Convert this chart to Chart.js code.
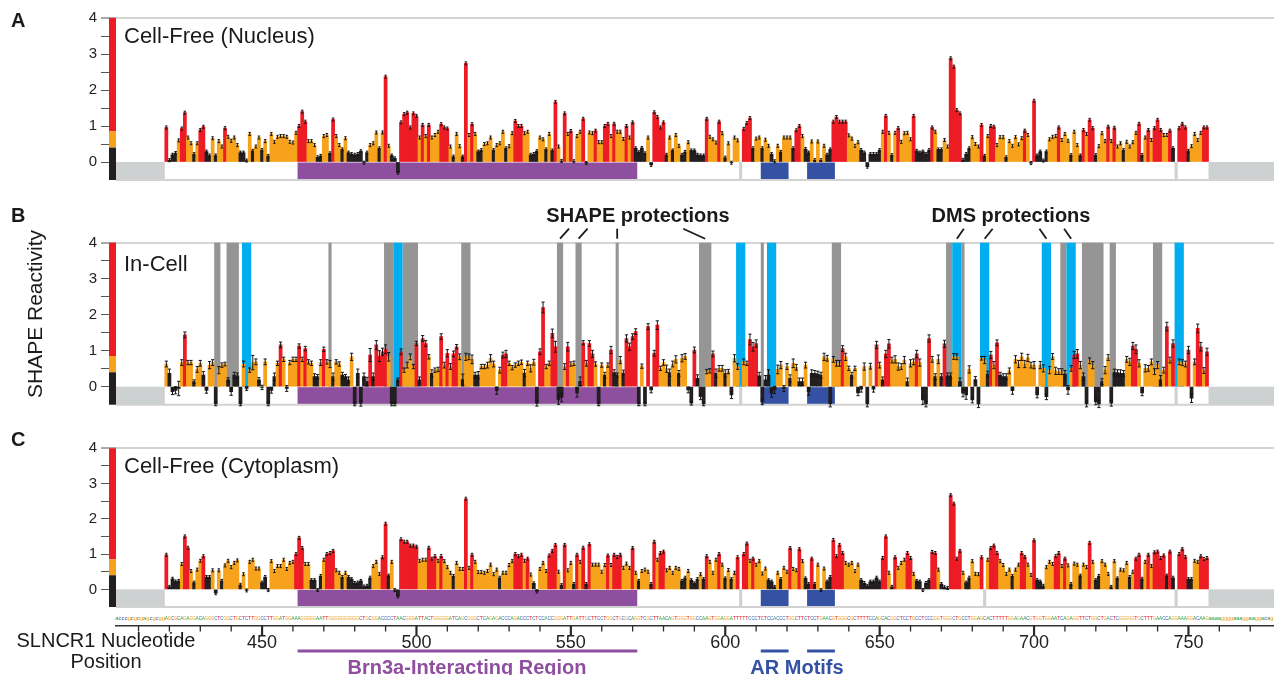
<!DOCTYPE html>
<html><head><meta charset="utf-8">
<script src="https://cdn.jsdelivr.net/npm/chart.js@4/dist/chart.umd.min.js"></script>
<style>
html,body{margin:0;padding:0;background:#fff;}
#wrap{position:relative;width:1274px;height:675px;overflow:hidden;font-family:"Liberation Sans",Arial,Helvetica,sans-serif;color:#1a1a1a;}
canvas{position:absolute;left:0;}
.t{position:absolute;line-height:1;white-space:nowrap;}
.b{font-weight:bold;}
.c{transform:translate(-50%,-50%);}
.l{transform:translate(0,-50%);}
</style></head><body><div id="wrap">
<canvas id="cA" width="1274" height="200" style="top:0px"></canvas>
<canvas id="cB" width="1274" height="220" style="top:200px"></canvas>
<canvas id="cC" width="1274" height="200" style="top:420px"></canvas>
<canvas id="cD" width="1274" height="75" style="top:600px"></canvas>

<div class="t b l" style="left:11px;top:20px;font-size:20px">A</div>
<div class="t b l" style="left:11px;top:215px;font-size:20px">B</div>
<div class="t b l" style="left:11px;top:439px;font-size:20px">C</div>
<div class="t l" style="left:124px;top:36px;font-size:22px">Cell-Free (Nucleus)</div>
<div class="t l" style="left:124px;top:264px;font-size:22px">In-Cell</div>
<div class="t l" style="left:124px;top:466px;font-size:22px">Cell-Free (Cytoplasm)</div>
<div class="t" style="left:34px;top:314px;font-size:21px;transform:translate(-50%,-50%) rotate(-90deg)">SHAPE Reactivity</div>
<div class="t b c" style="left:638px;top:215px;font-size:20px">SHAPE protections</div>
<div class="t b c" style="left:1011px;top:215px;font-size:20px">DMS protections</div>
<div class="t c" style="left:106px;top:640px;font-size:20px">SLNCR1 Nucleotide</div>
<div class="t c" style="left:106px;top:661px;font-size:20px">Position</div>
<div class="t b c" style="left:467px;top:667px;font-size:20px;color:#8E4F9F">Brn3a-Interacting Region</div>
<div class="t b c" style="left:797px;top:667px;font-size:20px;color:#3451A3">AR Motifs</div>
</div>
<script>
// ---------------- data ----------------
const START = 419;            // first nucleotide with data
const XMIN = 402.7, XMAX = 777.7;

const valA = [
0.96,0.05,0.2,0.25,0.6,0.93,1.37,0.68,0.52,0.22,
0.52,0.89,0.98,0.29,0.18,0.66,0.18,0.58,0.43,0.94,
0.7,0.59,0.68,0.47,0.26,0.26,0.04,0.78,0.31,0.43,
0.68,0.33,0.58,0.17,0.78,0.56,0.7,0.72,0.72,0.7,
0.56,0.54,0.81,1.0,1.4,1.12,0.58,0.58,0.47,0.13,
0.17,0.72,0.75,0.24,1.18,0.72,0.47,0.35,0.66,0.26,
0.22,0.2,0.22,0.3,-0.02,0.26,0.47,0.52,0.82,0.38,
0.82,2.37,0.45,0.18,0.1,-0.3,1.1,1.33,1.37,0.96,
1.35,1.28,0.68,1.03,0.72,1.03,0.68,0.75,0.84,1.05,
0.96,0.93,0.43,0.15,0.78,0.44,0.15,2.74,0.75,1.05,
0.78,0.29,0.33,0.5,0.52,0.68,0.33,0.47,0.52,0.84,
0.38,0.44,0.8,1.14,1.0,1.0,0.8,0.84,0.2,0.22,
0.3,0.68,0.63,0.35,0.78,0.32,1.67,0.43,0.03,1.35,
0.78,0.86,0.02,0.72,0.84,1.2,-0.03,0.82,0.8,0.87,
0.55,0.55,1.0,1.06,0.72,1.06,0.84,0.84,0.64,1.0,
0.68,1.1,0.38,0.27,0.39,0.24,0.68,-0.08,1.38,1.25,
0.96,1.1,0.2,0.68,0.32,0.75,0.45,0.2,0.28,0.55,
0.32,0.32,0.2,0.18,0.18,1.2,0.7,0.63,0.54,1.12,
0.8,0.12,0.52,-0.02,0.68,0.6,null,0.92,1.08,1.22,
0.38,0.65,0.68,0.38,0.62,0.45,0.22,0.02,0.45,0.28,
0.68,0.68,0.68,0.38,0.88,1.0,0.72,0.36,0.26,0.57,
0.05,0.57,0.05,0.45,0.2,0.35,1.12,1.25,1.12,1.12,
1.12,0.74,0.65,0.45,0.55,0.33,0.26,-0.13,0.22,0.22,
0.22,0.33,0.84,1.28,0.81,0.19,0.81,0.94,0.56,0.8,
0.81,0.63,1.28,0.31,0.26,0.29,0.22,0.33,0.96,0.84,
0.35,0.35,0.61,0.43,2.88,2.65,1.44,1.35,0.06,0.22,
0.38,0.69,0.5,0.43,1.03,0.17,0.72,1.0,0.98,0.47,
0.69,0.69,0.13,0.58,0.45,0.69,0.49,0.66,0.87,0.75,
-0.03,1.7,0.18,0.29,0.04,0.29,0.63,0.7,0.72,0.96,
0.61,0.78,0.59,0.19,0.84,0.47,0.18,0.89,0.78,1.17,
0.94,0.19,0.44,0.8,0.58,0.98,0.58,0.95,0.43,0.52,
0.33,0.56,0.43,0.55,0.81,1.06,0.19,0.68,0.89,0.61,
0.94,1.17,0.89,0.75,0.75,0.87,0.38,null,0.94,1.06,
0.96,0.31,0.44,0.78,0.61,0.81,0.96,0.96];

const valB = [
0.63,0.37,-0.14,-0.1,-0.05,0.67,1.44,0.67,0.67,0.14,
0.48,0.65,0.32,-0.1,0.6,0.67,-0.48,0.46,0.6,0.63,
0.19,-0.14,0.32,0.3,-0.48,0.63,-0.05,0.46,0.67,0.69,
0.19,-0.02,0.69,-0.48,-0.1,0.28,0.65,1.16,0.76,-0.05,
0.67,0.76,0.76,1.13,0.76,1.06,0.69,0.65,0.28,0.28,
0.67,1.04,0.69,0.63,0.28,0.69,0.63,0.32,0.28,0.19,
0.83,-0.48,0.37,-0.46,0.28,0.14,0.88,0.28,1.16,0.85,
0.97,1.04,0.83,-0.48,-0.48,0.19,0.97,0.46,0.6,0.83,
0.56,1.2,0.19,1.34,1.2,0.83,0.37,0.46,0.48,1.39,
0.6,0.93,0.56,0.91,1.11,0.83,0.2,0.83,0.83,0.76,
0.32,0.32,0.56,0.56,0.6,0.79,0.63,-0.11,0.46,0.88,
0.91,0.65,0.53,0.6,0.65,0.68,0.38,0.65,0.51,0.68,
-0.46,0.97,2.2,0.56,0.65,1.48,1.11,-0.37,-0.3,0.56,
1.11,0.63,0.65,-0.17,0.15,1.22,0.65,1.2,0.91,0.63,
-0.48,0.6,0.32,0.6,1.02,0.39,0.32,0.74,0.38,1.34,
1.11,1.39,1.53,-0.48,0.57,-0.48,1.67,-0.09,0.93,1.71,
0.51,0.67,0.5,0.39,0.63,0.76,0.37,0.79,0.84,-0.09,
-0.46,1.02,0.23,-0.28,-0.48,0.42,0.44,0.91,0.37,0.51,
0.51,0.37,0.42,-0.23,0.79,0.56,null,0.69,0.65,1.31,
1.11,1.2,0.3,-0.42,0.19,0.32,-0.19,-0.09,0.48,0.6,
-0.05,0.56,0.23,0.65,0.54,0.14,0.14,0.6,-0.14,0.37,
0.37,0.35,0.32,0.83,0.79,-0.48,0.76,0.65,0.65,1.06,
0.83,0.51,0.32,0.51,-0.17,-0.07,0.56,-0.48,0.57,-0.07,
1.16,0.6,0.19,0.91,1.19,0.74,0.76,0.56,0.56,0.74,
0.14,0.65,0.69,0.91,0.67,-0.37,-0.48,1.34,0.76,0.28,
0.76,0.28,1.19,0.3,0.3,0.84,0.83,0.14,-0.18,-0.23,
0.48,-0.37,0.2,-0.48,0.79,0.74,0.35,0.88,0.6,1.22,
0.32,0.28,0.28,0.44,-0.11,0.76,0.63,0.83,0.63,0.8,
0.6,0.6,-0.23,0.6,0.51,-0.28,0.46,0.84,0.44,0.42,
0.42,0.35,-0.09,0.51,0.88,0.91,0.6,0.28,-0.48,0.72,
0.6,-0.42,-0.48,0.14,0.46,0.81,-0.46,0.39,0.39,0.37,
0.37,0.76,0.69,1.13,1.04,0.65,-0.17,0.51,0.51,0.69,
0.42,0.6,0.19,0.46,1.67,0.74,1.2,null,0.69,0.67,
0.63,1.02,-0.32,0.69,1.62,1.11,0.45,0.97];

// In-cell error bar half-lengths, in hundredths of a reactivity unit
const errB = [
8,12,8,10,20,8,8,6,6,5, 8,8,10,8,10,8,5,10,6,5, 6,10,8,8,5,8,5,6,20,8, 6,6,8,5,8,10,6,8,6,8,
6,6,6,6,6,6,6,6,8,6, 8,6,6,10,10,6,6,8,6,8, 10,5,12,8,10,12,18,10,12,15, 10,12,12,5,5,5,8,6,8,8,
6,6,8,8,8,6,10,6,6,8, 8,10,8,8,6,8,15,10,8,12, 8,10,6,6,8,10,8,10,8,8, 10,6,6,6,6,6,10,6,10,8,
8,8,15,6,6,12,15,12,12,8, 12,6,6,12,12,6,8,8,10,6, 5,6,8,6,10,8,6,10,8,10, 10,8,8,5,6,5,8,8,8,12,
6,8,10,10,8,10,8,10,8,8, 5,8,10,8,5,6,6,8,12,8, 8,10,6,10,10,8,0,8,6,15, 12,10,10,8,12,15,10,10,12,10,
8,8,10,12,8,10,10,8,10,10, 8,8,8,10,8,8,8,8,8,8, 10,6,8,6,8,8,10,8,8,8, 10,8,8,10,12,8,10,10,8,10,
10,10,8,10,10,12,8,10,8,8, 12,8,10,8,8,8,8,10,10,12, 10,8,8,10,5,10,8,10,10,8, 8,8,8,8,10,10,10,10,10,10,
8,10,8,10,10,8,10,8,10,8, 8,10,12,8,10,12,10,10,8,8, 10,8,10,8,10,8,8,10,8,10, 8,8,10,10,12,10,8,10,8,8,
8,10,12,8,12,8,10,0,8,8, 8,10,12,8,12,12,8,10];

const valC = [
0.98,0.07,0.3,0.22,0.24,0.72,1.5,1.18,0.52,0.19,
0.56,0.81,0.94,0.35,0.35,0.54,-0.11,0.54,0.24,0.68,
0.81,0.63,0.75,0.82,0.13,0.43,-0.03,0.78,0.84,0.59,
0.59,0.19,0.35,-0.02,0.8,0.52,0.66,0.66,0.84,0.58,
0.75,0.78,1.0,1.46,1.17,0.72,0.72,0.26,0.26,-0.02,
0.38,0.84,1.0,1.03,1.09,0.54,0.47,0.35,0.47,0.35,
0.29,0.18,0.19,0.24,0.08,0.1,0.33,0.66,0.78,0.44,
0.91,1.86,0.39,0.78,-0.02,-0.2,1.42,1.35,1.35,1.24,
1.24,1.21,0.81,0.84,0.84,1.18,0.87,0.94,0.81,0.94,
0.8,0.63,0.47,0.38,0.75,0.58,0.58,2.57,0.61,0.98,
0.78,0.49,0.49,0.47,0.52,0.7,0.43,0.56,0.33,0.47,
0.47,0.69,0.8,1.0,0.94,0.98,0.81,0.87,0.42,0.17,
-0.06,0.58,0.75,0.52,0.96,1.09,1.26,0.5,0.12,1.26,
0.54,0.75,0.15,0.98,0.78,1.18,0.15,1.28,0.7,0.7,
0.7,0.5,0.69,0.96,0.69,0.98,0.92,0.98,0.61,0.73,
0.61,1.17,0.47,0.24,0.52,0.56,0.5,0.15,1.35,0.84,
1.03,1.07,0.54,0.61,0.47,0.61,0.58,0.24,0.33,0.52,
0.26,0.17,0.29,0.43,0.29,0.94,0.78,0.47,0.84,1.0,
0.7,0.31,0.55,0.29,0.47,0.91,null,1.0,1.3,0.81,
0.87,0.7,0.8,0.45,0.59,0.26,0.22,0.07,0.47,0.29,
0.61,0.5,1.17,0.58,0.54,1.14,0.8,0.31,0.15,0.87,
0.15,0.7,-0.02,0.59,0.22,0.35,1.4,0.94,1.26,1.03,
0.75,0.7,0.75,0.52,0.7,0.26,0.18,0.1,0.22,0.22,
0.33,0.22,0.89,1.5,0.47,0.07,0.91,0.61,0.75,0.84,
1.03,0.89,0.44,0.24,0.22,-0.02,0.18,0.26,1.06,1.03,
0.56,0.15,0.06,0.04,2.67,2.43,0.87,1.09,0.47,0.19,
0.33,0.8,0.44,0.43,0.91,null,0.84,1.17,1.24,1.03,
0.8,0.69,0.44,0.56,0.38,0.56,0.7,1.03,0.92,0.7,
0.41,1.39,0.26,0.22,0.1,0.63,0.78,0.72,0.94,1.03,
0.66,0.87,0.68,0.15,0.73,0.7,0.39,0.7,0.63,1.32,
0.78,0.26,0.38,0.8,0.7,0.44,0.07,0.8,0.31,0.56,
0.54,0.75,0.35,0.5,0.87,0.98,0.3,0.78,0.98,0.66,
1.05,1.07,0.89,0.96,0.39,1.07,0.33,null,1.0,1.14,
0.92,0.29,0.29,0.81,0.78,0.94,0.86,0.89];

// regions (nucleotide numbers, inclusive)
const brnRegion = [462, 571];
const arMotifs = [[612, 620], [627, 635]];
const shapeBands = [[435,436],[439,442],[472,472],[490,492],[496,500],[515,517],[546,547],[552,553],[565,565],
  [592,595],[612,612],[635,637],[672,673],[677,677],[709,710],[716,722],[725,726],[739,741]];
const dmsBands = [[444,446],[493,495],[604,606],[614,616],[674,676],[683,685],[703,705],[711,713],[746,748]];
const shapeLeaders = [546.5, 552.5, 565, 593.5];
const dmsLeaders = [675, 684, 704, 712];

// sequence under the axis, first letter = nucleotide 403
const SEQ_START = 403;
const seq = "acccgcgcgagcgcgg" +
  "AGCGCAGAGGACAGGGCTCGGCTGCTCTTGGCCTTGGATGGAAAGGGGGAATTGGGGGGGGGGCTGCGGACCCCTAACGGGATTACTGGGGGATCAGCGGGCTCAGAGACCCAGACCCTCTCCACCGGGATTGATTGCTTCCTGGCTGCGCAG" +
  "GTCGCTTAACAGTGGGTGGCCAAGTGGAGGATTTTTCCCTCTCCACCCTGGCTTCTCCTGAACGTGGGCGCTTTTCCAGCACGGCTCCTGCCTCCCGGTGGGCTGCCTGGAGCACTTTTTGGAGAACGTGGTGGAATCAGAGGTTCTGGCTGACTCGGGGGTGCTTTGAACCAGGAAAGGACAAG" +
  "aaaaggggaaaggaaggacag";

// ---------------- styles ----------------
const RED = '#ED1C24', ORANGE = '#F7A21B', BLACK = '#231F20';
const STRIP_GREY = '#CDD1D1', PURPLE = '#8E4F9F', BLUE = '#3451A3';
const BAND_GREY = '#959595', BAND_CYAN = '#00AEEF';
Chart.defaults.font.family = "'Liberation Sans', Arial, Helvetica, sans-serif";

function colorFor(v){ if (v == null) return 'rgba(0,0,0,0)'; return v >= 0.85 ? RED : (v >= 0.4 ? ORANGE : BLACK); }

function makePanel(id, vals, errs, withBands, padTop, padBottom){
  const data = vals.map((v, i) => ({x: START + i, y: v}));
  const deco = {
    id: 'deco_' + id,
    beforeDatasetsDraw(chart){
      const {ctx, chartArea: a, scales: {x, y}} = chart;
      const y0 = y.getPixelForValue(0), y1 = y.getPixelForValue(-0.5), y4 = y.getPixelForValue(4);
      const px = n => x.getPixelForValue(n);
      ctx.save();
      if (withBands){
        shapeBands.forEach(b => { ctx.fillStyle = BAND_GREY; ctx.fillRect(px(b[0]-0.5), y4, px(b[1]+0.5)-px(b[0]-0.5), y0-y4); });
        dmsBands.forEach(b => { ctx.fillStyle = BAND_CYAN; ctx.fillRect(px(b[0]-0.5), y4, px(b[1]+0.5)-px(b[0]-0.5), y0-y4); });
      }
      // annotation strip
      const xl = px(START-0.5), xr = px(START+vals.length-0.5);
      ctx.fillStyle = STRIP_GREY;
      ctx.fillRect(a.left, y0, xl-a.left, y1-y0);
      ctx.fillRect(xr, y0, a.right-xr, y1-y0);
      ctx.fillStyle = PURPLE;
      ctx.fillRect(px(brnRegion[0]-0.5), y0+0.5, px(brnRegion[1]+0.5)-px(brnRegion[0]-0.5), y1-y0-1);
      ctx.fillStyle = BLUE;
      arMotifs.forEach(m => ctx.fillRect(px(m[0]-0.5), y0+0.5, px(m[1]+0.5)-px(m[0]-0.5), y1-y0-1));
      ctx.fillStyle = STRIP_GREY;
      vals.forEach((v, i) => { if (v === null){ ctx.fillRect(px(START+i-0.5), y0, px(START+i+0.5)-px(START+i-0.5), y1-y0); } });
      ctx.strokeStyle = '#d2d2d2'; ctx.lineWidth = 2;
      ctx.beginPath(); ctx.moveTo(a.left, y1); ctx.lineTo(a.right, y1); ctx.stroke();
      ctx.restore();
    },
    afterDatasetsDraw(chart){
      const {ctx, scales: {y}} = chart;
      const meta = chart.getDatasetMeta(0);
      ctx.save(); ctx.strokeStyle = '#151515'; ctx.lineWidth = 1;
      meta.data.forEach((el, i) => {
        const v = vals[i]; if (v == null) return;
        const cx = el.x; let yt, yb, cw;
        if (errs){ const e = errs[i]/100; yt = y.getPixelForValue(v+e); yb = y.getPixelForValue(v-e); cw = 1.6; }
        else { const yy = y.getPixelForValue(v); yt = yy-1.5; yb = yy+1.5; cw = 1.2; }
        ctx.beginPath();
        ctx.moveTo(cx, yt); ctx.lineTo(cx, yb);
        ctx.moveTo(cx-cw, yt); ctx.lineTo(cx+cw, yt);
        ctx.moveTo(cx-cw, yb); ctx.lineTo(cx+cw, yb);
        ctx.stroke();
      });
      ctx.restore();
    },
    afterDraw(chart){
      const {ctx, chartArea: a, scales: {x, y}} = chart;
      const bx = a.left - 7;
      const p = v => y.getPixelForValue(v);
      ctx.save();
      ctx.fillStyle = RED; ctx.fillRect(bx, p(4), 7, p(0.85)-p(4));
      ctx.fillStyle = ORANGE; ctx.fillRect(bx, p(0.85), 7, p(0.4)-p(0.85));
      ctx.fillStyle = BLACK; ctx.fillRect(bx, p(0.4), 7, p(-0.5)-p(0.4));
      if (withBands){
        const top = p(4);
        ctx.strokeStyle = '#1a1a1a'; ctx.lineWidth = 1.8;
        const draw = (n, dx) => { const cx = x.getPixelForValue(n); ctx.beginPath(); ctx.moveTo(cx, top-4); ctx.lineTo(cx+dx, top-14); ctx.stroke(); };
        const sdx = [9, 9, 0, -22], ddx = [7, 8, -7, -7];
        shapeLeaders.forEach((n, k) => draw(n, sdx[k]));
        dmsLeaders.forEach((n, k) => draw(n, ddx[k]));
      }
      ctx.restore();
    }
  };
  return new Chart(document.getElementById(id), {
    type: 'bar',
    data: {datasets: [{data, backgroundColor: c => colorFor(c.raw ? c.raw.y : null), borderWidth: 0,
      barPercentage: 1, categoryPercentage: 1, grouped: false}]},
    options: {
      animation: false, responsive: false, maintainAspectRatio: false,
      layout: {padding: {top: padTop, bottom: padBottom, left: 0, right: 0}},
      plugins: {legend: {display: false}, tooltip: {enabled: false}},
      scales: {
        x: {type: 'linear', min: XMIN, max: XMAX, offset: false, display: false},
        y: {
          min: -0.5, max: 4,
          afterFit(s){ s.width = 116; },
          border: {display: false},
          grid: {
            drawOnChartArea: true,
            color: c => (c.tick && c.tick.value === 4) ? '#d4d4d4' : 'rgba(0,0,0,0)',
            lineWidth: c => (c.tick && c.tick.value === 4) ? 2 : 1,
            tickLength: 15,
            tickColor: c => (c.tick && c.tick.value >= 0) ? '#555' : 'rgba(0,0,0,0)',
            tickWidth: 1
          },
          ticks: {stepSize: 0.5, autoSkip: false, padding: 4, color: '#222', font: {size: 15},
            callback: v => (v >= 0 && Math.abs(v - Math.round(v)) < 1e-9) ? String(Math.round(v)) : ''}
        }
      }
    },
    plugins: [deco]
  });
}

makePanel('cA', valA, null, false, 18, 20);
makePanel('cB', valB, errB, true, 42.7, 15.3);
makePanel('cC', valC, null, false, 28.3, 9.7);

// ---------------- shared nucleotide axis ----------------
const baseColor = {A:'#2E9E3E', C:'#2F5FB3', G:'#EE9A1E', T:'#E2262B'};
const axisDeco = {
  id: 'axisDeco',
  afterDraw(chart){
    const {ctx, chartArea: a, scales: {x}} = chart;
    ctx.save();
    ctx.font = "6px 'Liberation Sans Narrow','Liberation Sans',sans-serif";
    ctx.textAlign = 'center'; ctx.textBaseline = 'middle';
    for (let k = 0; k < seq.length; k++){
      const ch = seq[k];
      ctx.fillStyle = baseColor[ch.toUpperCase()] || '#666';
      ctx.fillText(ch, x.getPixelForValue(SEQ_START + k), a.bottom - 7.5, 3.2);
    }
    ctx.strokeStyle = '#2a2a2a';
    x.ticks.forEach(t => {
      const major = t.value % 50 === 0;
      const cx = x.getPixelForValue(t.value);
      ctx.lineWidth = major ? 2.2 : 1.3;
      ctx.beginPath(); ctx.moveTo(cx, a.bottom); ctx.lineTo(cx, a.bottom + (major ? 10 : 6)); ctx.stroke();
    });
    const ly = 51;
    ctx.lineWidth = 3;
    ctx.strokeStyle = PURPLE;
    ctx.beginPath(); ctx.moveTo(x.getPixelForValue(brnRegion[0]-0.5), ly); ctx.lineTo(x.getPixelForValue(brnRegion[1]+0.5), ly); ctx.stroke();
    ctx.strokeStyle = BLUE;
    arMotifs.forEach(m => { ctx.beginPath(); ctx.moveTo(x.getPixelForValue(m[0]-0.5), ly); ctx.lineTo(x.getPixelForValue(m[1]+0.5), ly); ctx.stroke(); });
    ctx.restore();
  }
};
new Chart(document.getElementById('cD'), {
  type: 'line',
  data: {datasets: [{data: []}]},
  options: {
    animation: false, responsive: false, maintainAspectRatio: false,
    layout: {padding: {left: 116, right: 0, top: 0, bottom: 24}},
    plugins: {legend: {display: false}, tooltip: {enabled: false}},
    scales: {
      x: {type: 'linear', position: 'bottom', min: XMIN, max: XMAX, offset: false,
        border: {display: true, color: '#333', width: 1.5},
        grid: {drawOnChartArea: false, drawTicks: false},
        ticks: {stepSize: 10, includeBounds: false, autoSkip: false, maxRotation: 0, padding: 7, color: '#222', font: {size: 18},
          callback: v => (v % 50 === 0) ? String(v) : ''}},
      y: {display: false, min: 0, max: 1}
    }
  },
  plugins: [axisDeco]
});
</script>
</body></html>
